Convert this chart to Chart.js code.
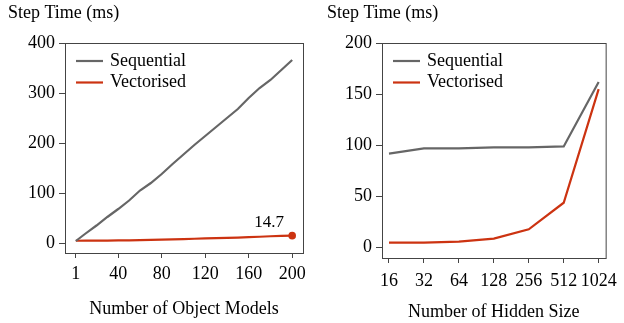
<!DOCTYPE html>
<html>
<head>
<meta charset="utf-8">
<script src="https://cdn.jsdelivr.net/npm/chart.js@4"></script>
<style>
  html, body { margin:0; padding:0; background:#fff; }
  .wrap { display:flex; width:624px; height:323px; }
  .box { position:relative; width:312px; height:323px; }
</style>
</head>
<body>
<div class="wrap">
  <div class="box"><canvas id="left" width="312" height="323"></canvas></div>
  <div class="box"><canvas id="right" width="312" height="323"></canvas></div>
</div>
<script>
// left panel: step time vs number of object models
const models = [1,10,20,30,40,50,60,70,80,90,100,110,120,130,140,150,160,170,180,190,200];
const seqModels = [4,19,35,52,68,85,105,120,138,158,177,196,214,232,250,268,290,310,326,346,366];
const vecModels = [4.5,4.6,4.7,4.9,5.1,5.4,5.8,6.2,6.6,7.2,7.9,8.5,9.1,9.7,10.3,10.9,11.6,12.5,13.5,14.2,14.7];
const modelTicks = [1,40,80,120,160,200];
const leftYTicks = [0,100,200,300,400];

// right panel: step time vs hidden size
const hiddenSizes = ["16","32","64","128","256","512","1024"];
const seqHidden = [92,97,97,98,98,99,162];
const vecHidden = [5,5,6,9,18,44,155];
const rightYTicks = [0,50,100,150,200];

const GRAY = "#666666";
const RED = "#cc3311";
const FONT = "'Liberation Serif', 'Times New Roman', serif";

Chart.defaults.font.family = FONT;
Chart.defaults.font.size = 18;
Chart.defaults.color = "#000";

// box, legend, y label and end label
const decor = {
  id:"decor",
  afterDraw(c, args, opts){
    const ctx = c.ctx, a = c.chartArea;
    ctx.save();
    ctx.strokeStyle = "#444";
    ctx.lineWidth = 1;
    ctx.strokeRect(a.left+0.5, a.top+0.5, a.right-a.left, a.bottom-a.top);

    ctx.font = "18px " + FONT;
    ctx.fillStyle = "#000";
    ctx.textBaseline = "middle";
    ctx.textAlign = "left";
    ctx.fillText("Step Time (ms)", opts.titleX, 13);

    c.data.datasets.forEach((ds, i) => {
      const y = 61 + i*21.5;
      ctx.strokeStyle = ds.borderColor;
      ctx.lineWidth = 2.2;
      ctx.beginPath();
      ctx.moveTo(a.left+11, y);
      ctx.lineTo(a.left+38, y);
      ctx.stroke();
      ctx.fillStyle = "#000";
      ctx.fillText(ds.label, a.left+45, y);
    });

    if(opts.endLabel){
      const meta = c.getDatasetMeta(1);
      const p = meta.data[meta.data.length-1];
      const v = c.data.datasets[1].data[c.data.datasets[1].data.length-1];
      ctx.fillStyle = RED;
      ctx.beginPath();
      ctx.arc(p.x, p.y, 3.8, 0, Math.PI*2);
      ctx.fill();
      ctx.fillStyle = "#000";
      ctx.font = "17px " + FONT;
      ctx.textAlign = "center";
      ctx.fillText(v.y.toFixed(1), p.x-23, p.y-13);
    }
    ctx.restore();
  }
};

function axisX(min, max, ticks, fmt, title, h, tpad, tb){
  return {
    type:"linear", min:min, max:max,
    afterBuildTicks: s => { s.ticks = ticks.map(v => ({value:v})); },
    afterFit: s => { s.height = h; },
    grid:{ drawOnChartArea:false, drawTicks:true, tickLength:5, color:"#444" },
    border:{ display:false },
    ticks:{ padding:tpad, maxRotation:0, autoSkip:false, callback:fmt },
    title:{ display:true, text:title, padding:{top:0, bottom:tb} }
  };
}

function axisY(min, max, ticks, w){
  return {
    min:min, max:max,
    afterBuildTicks: s => { s.ticks = ticks.map(v => ({value:v})); },
    afterFit: s => { s.width = w; },
    grid:{ drawOnChartArea:false, drawTicks:true, tickLength:6, color:"#444" },
    border:{ display:false },
    ticks:{ padding:4 }
  };
}

function lineDs(label, xs, ys, color){
  return {
    label:label,
    data: ys.map((v, i) => ({x:xs[i], y:v})),
    borderColor:color,
    borderWidth:2.2,
    pointRadius:0,
    tension:0
  };
}

new Chart(document.getElementById("left"), {
  type:"line",
  data:{ datasets:[
    lineDs("Sequential", models, seqModels, GRAY),
    lineDs("Vectorised", models, vecModels, RED)
  ]},
  options:{
    responsive:false, animation:false,
    layout:{ padding:{ top:43, right:9, left:0, bottom:0 } },
    plugins:{ legend:{display:false}, tooltip:{enabled:false}, decor:{ titleX:8, endLabel:true } },
    scales:{
      x: axisX(-8.95, 209.95, modelTicks, v => v, "Number of Object Models", 70, 5, 3),
      y: axisY(-20, 400, leftYTicks, 65)
    }
  },
  plugins:[decor]
});

new Chart(document.getElementById("right"), {
  type:"line",
  data:{ datasets:[
    lineDs("Sequential", hiddenSizes.map((_, i) => i), seqHidden, GRAY),
    lineDs("Vectorised", hiddenSizes.map((_, i) => i), vecHidden, RED)
  ]},
  options:{
    responsive:false, animation:false,
    layout:{ padding:{ top:43, right:11, left:0, bottom:0 } },
    plugins:{ legend:{display:false}, tooltip:{enabled:false}, decor:{ titleX:15, endLabel:false } },
    scales:{
      x: axisX(-0.2, 6.2, hiddenSizes.map((_, i) => i), v => hiddenSizes[v], "Number of Hidden Size", 65, 7, 0),
      y: axisY(-10, 200, rightYTicks, 70)
    }
  },
  plugins:[decor]
});
</script>
</body>
</html>
